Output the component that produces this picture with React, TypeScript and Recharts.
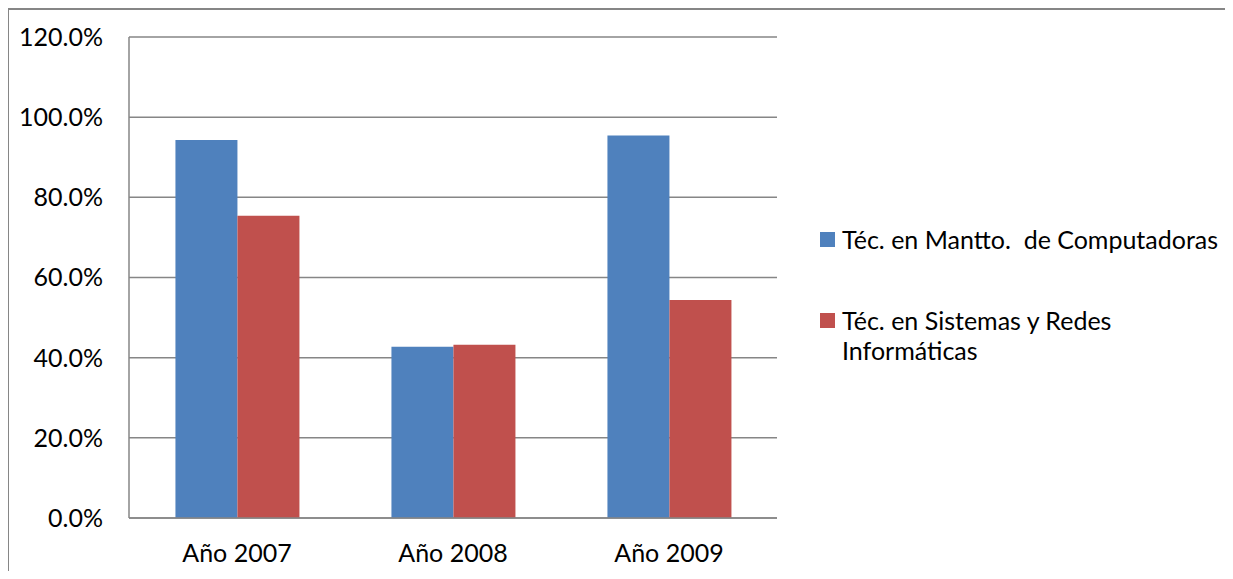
import React from 'react';
import {
  BarChart,
  Bar,
  XAxis,
  YAxis,
  CartesianGrid,
  Legend
} from 'recharts';

// Porcentajes por año y carrera
const years = ['Año 2007', 'Año 2008', 'Año 2009'];
const mantto = [94.3, 42.7, 95.4];
const redes = [75.4, 43.2, 54.4];
const yTicks = [0, 20, 40, 60, 80, 100, 120];

const seriesNames = ['Téc. en Mantto.  de Computadoras', 'Téc. en Sistemas y Redes Informáticas'];
const seriesColors = ['#4F81BD', '#C0504D'];

const data = years.map((year, i) => ({
  year,
  mantto: mantto[i],
  redes: redes[i]
}));

const FONT = 'Lato, "Open Sans", sans-serif';
const GRID = '#868686';

const renderLegend = () => (
  <div style={{ fontFamily: FONT, fontSize: 25, lineHeight: '30px', color: '#000' }}>
    {seriesNames.map((name, i) => (
      <div key={name} style={{ display: 'flex', alignItems: 'flex-start', marginTop: i === 0 ? 0 : 51 }}>
        <span
          style={{
            display: 'inline-block',
            width: 15,
            height: 15,
            marginTop: 8,
            marginRight: 7,
            background: seriesColors[i],
            flexShrink: 0
          }}
        />
        <span style={{ whiteSpace: 'pre-wrap', width: 384 }}>{name}</span>
      </div>
    ))}
  </div>
);

const App: React.FC = () => {
  return (
    <div
      style={{
        position: 'relative',
        left: -1,
        width: 1222,
        height: 561,
        boxSizing: 'content-box',
        borderTop: `2px solid ${GRID}`,
        borderLeft: `2px solid ${GRID}`,
        background: '#fff'
      }}
    >
      <BarChart
        width={1222}
        height={561}
        data={data}
        margin={{ top: 27, right: 454, left: 0, bottom: 13 }}
        barCategoryGap="21.5%"
        barGap={0}
      >
        <CartesianGrid vertical={false} stroke={GRID} strokeWidth={1.5} />
        <XAxis
          dataKey="year"
          height={40}
          tickLine={false}
          tickSize={0}
          tickMargin={26}
          axisLine={{ stroke: GRID, strokeWidth: 1.5 }}
          tick={{ fontSize: 25, fontFamily: FONT, fill: '#000' }}
        />
        <YAxis
          width={120}
          domain={[0, 120]}
          ticks={yTicks}
          interval={0}
          tickLine={false}
          tickSize={0}
          tickMargin={26}
          axisLine={{ stroke: GRID, strokeWidth: 1.5 }}
          tickFormatter={(v: number) => `${v.toFixed(1)}%`}
          tick={{ fontSize: 25, fontFamily: FONT, fill: '#000' }}
        />
        <Legend
          layout="horizontal"
          align="center"
          verticalAlign="middle"
          content={renderLegend}
          wrapperStyle={{ left: 811, top: 214, width: 410 }}
        />
        <Bar dataKey="mantto" name={seriesNames[0]} fill={seriesColors[0]} isAnimationActive={false} />
        <Bar dataKey="redes" name={seriesNames[1]} fill={seriesColors[1]} isAnimationActive={false} />
      </BarChart>
    </div>
  );
};

export default App;
